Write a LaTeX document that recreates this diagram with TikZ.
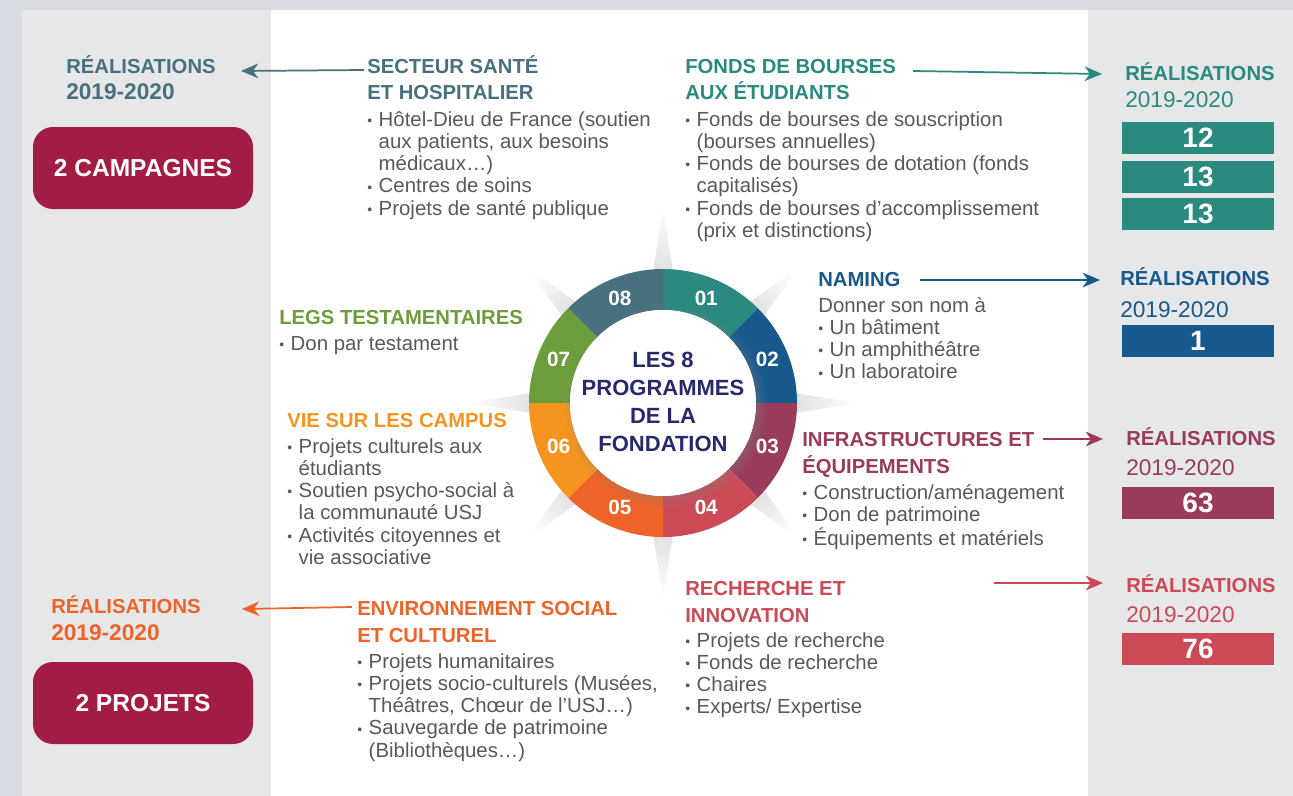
\documentclass[tikz,border=0pt]{standalone}
\usepackage{fontspec}
\setmainfont{Liberation Sans}
\usepackage{tikz}
\usetikzlibrary{
	arrows.meta
	,positioning
	,shadows
	,fadings
}
\definecolor{frameCol}{HTML}{D8DBE4}
\definecolor{panelCol}{HTML}{E6E7E9}
\definecolor{santeCol}{HTML}{47717F}
\definecolor{boursesCol}{HTML}{2A8A7F}
\definecolor{namingCol}{HTML}{17598C}
\definecolor{infraCol}{HTML}{9A3B5C}
\definecolor{rechercheCol}{HTML}{CC4A56}
\definecolor{envCol}{HTML}{EE6327}
\definecolor{campusCol}{HTML}{F5951F}
\definecolor{legsCol}{HTML}{6D9D3B}
\definecolor{campCol}{HTML}{A31C44}
\definecolor{titleCol}{HTML}{27296B}
\definecolor{bodyCol}{HTML}{58595B}
\newcommand{\bul}{\makebox[8.6pt][l]{\raisebox{0.6pt}{\fontsize{10.5}{10}\selectfont•}}}
\newcommand{\ind}{\hspace*{8.6pt}}
\newcommand{\lines}[1]{\begin{tabular}[t]{@{}l@{}}#1\end{tabular}}

\begin{document}
\begin{tikzpicture}[x=0.75pt,y=-0.75pt,
  progHead/.style={anchor=base west,inner sep=0pt,text=#1,font=\bfseries\fontsize{15.2}{20.25}\selectfont},
  progBody/.style={anchor=base west,inner sep=0pt,text=bodyCol,font=\fontsize{15.3}{16.7}\selectfont},
  realR/.style={anchor=base west,inner sep=0pt,text=#1,font=\fontsize{15.2}{20.25}\selectfont},
  numBox/.style={fill=#1,minimum width=114pt,minimum height=24pt,inner sep=0pt,text=white,font=\bfseries\fontsize{21}{21}\selectfont},
  campBox/.style={fill=campCol,rounded corners=15pt,minimum width=165pt,minimum height=61.5pt,inner sep=0pt,text=white,font=\bfseries\fontsize{18.4}{20}\selectfont},
  linkArrow/.style={draw=#1,line width=1.3pt,-{Stealth[length=13pt,width=11pt,inset=4pt]}},
  segNum/.style={text=white,inner sep=0pt,font=\bfseries\fontsize{15.5}{15.5}\selectfont},
  centreTitle/.style={align=center,text=titleCol,inner sep=0pt,font=\bfseries\fontsize{16.5}{21}\selectfont}
]
\fill[frameCol] (0,0) rectangle (1293,796);
\fill[panelCol] (22,10) rectangle (271,796);
\fill[white] (271,10) rectangle (1088,796);
\fill[panelCol] (1088,10) rectangle (1293,796);

\begin{scope}[shift={(663,403)},y=0.75pt]
\foreach \a in {0,45,...,315}
  \fill[gray!25,path fading=east,fading angle=\a] ({\a-5}:126) -- (\a:195) -- ({\a+5}:126) -- cycle;
\foreach \c [count=\i] in {boursesCol,namingCol,infraCol,rechercheCol,envCol,campusCol,legsCol,santeCol}{
  \pgfmathsetmacro\s{135-45*\i}
  \fill[\c] (\s:134) arc[start angle=\s,end angle=\s-45,radius=134] -- ({\s-45}:93) arc[start angle=\s-45,end angle=\s,radius=93] -- cycle;
  \node[segNum] (seg\i) at ({\s-22.5}:113) {0\i};
}
\fill[white,circular drop shadow={shadow xshift=2pt,shadow yshift=-2pt,opacity=.4}] (0,0) circle[radius=93];
\node[centreTitle] (progTitle) at (0,1) {LES 8\\PROGRAMMES\\DE LA\\FONDATION};
\end{scope}

\node[progHead=santeCol] (realA) at (66,73) {\lines{RÉALISATIONS\\{\fontsize{17}{20.25}\selectfont 2019-2020}}};
\node[campBox] (campA) at (143,168) {2 CAMPAGNES};
\node[progHead=envCol] (realF) at (51,613) {\lines{RÉALISATIONS\\{\fontsize{17}{20.25}\selectfont 2019-2020}}};
\node[campBox] (campB) at (143,703) {2 PROJETS};

\node[realR=boursesCol] (realB) at (1125,80) {\lines{\textbf{RÉALISATIONS}\\{\fontsize{17}{20.25}\selectfont 2019-2020}}};
\node[numBox=boursesCol] (box12) at (1198,138) {12};
\node[numBox=boursesCol] (box13a) at (1198,176.5) {13};
\node[numBox=boursesCol] (box13b) at (1198,214) {13};
\node[realR=namingCol] (realC) at (1120,285) {\lines{\textbf{RÉALISATIONS}\\[3.75pt]{\fontsize{17}{20.25}\selectfont 2019-2020}}};
\node[numBox=namingCol] (box1) at (1198,340.5) {1};
\node[realR=infraCol] (realD) at (1126,445) {\lines{\textbf{RÉALISATIONS}\\[2.25pt]{\fontsize{17}{20.25}\selectfont 2019-2020}}};
\node[numBox=infraCol] (box63) at (1198,502.5) {63};
\node[realR=rechercheCol] (realE) at (1126,592) {\lines{\textbf{RÉALISATIONS}\\[2.25pt]{\fontsize{17}{20.25}\selectfont 2019-2020}}};
\node[numBox=rechercheCol] (box76) at (1198,648.5) {76};

\node[progHead=santeCol] (sante) at (367,73) {\lines{SECTEUR SANTÉ\\ET HOSPITALIER}};
\node[progBody] (santeList) at ([shift={(0,53)}]sante.base west) {\lines{\bul Hôtel-Dieu de France (soutien\\\ind aux patients, aux besoins\\\ind médicaux…)\\\bul Centres de soins\\\bul Projets de santé publique}};

\node[progHead=boursesCol] (bourses) at (685,73) {\lines{FONDS DE BOURSES\\AUX ÉTUDIANTS}};
\node[progBody] (boursesList) at ([shift={(0,53)}]bourses.base west) {\lines{\bul Fonds de bourses de souscription\\\ind (bourses annuelles)\\\bul Fonds de bourses de dotation (fonds\\\ind capitalisés)\\\bul Fonds de bourses d’accomplissement\\\ind (prix et distinctions)}};

\node[progHead=namingCol] (naming) at (818,286) {NAMING};
\node[progBody] (namingList) at ([shift={(0,26)}]naming.base west) {\lines{Donner son nom à\\\bul Un bâtiment\\\bul Un amphithéâtre\\\bul Un laboratoire}};

\node[progHead=legsCol] (legs) at (279,324) {LEGS TESTAMENTAIRES};
\node[progBody] (legsList) at ([shift={(0,26)}]legs.base west) {\bul Don par testament};

\node[progHead=campusCol] (campus) at (287,427) {VIE SUR LES CAMPUS};
\node[progBody] (campusList) at ([shift={(0,26)}]campus.base west) {\lines{\bul Projets culturels aux\\\ind étudiants\\\bul Soutien psycho-social à\\\ind la communauté USJ\\\bul Activités citoyennes et\\\ind vie associative}};

\node[progHead=infraCol] (infra) at (802,446) {\lines{INFRASTRUCTURES ET\\ÉQUIPEMENTS}};
\node[progBody] (infraList) at ([shift={(0,53)}]infra.base west) {\lines{\bul Construction/aménagement\\\bul Don de patrimoine\\\bul Équipements et matériels}};

\node[progHead=rechercheCol] (recherche) at (685,595) {\lines{RECHERCHE ET\\INNOVATION}};
\node[progBody] (rechercheList) at ([shift={(0,52)}]recherche.base west) {\lines{\bul Projets de recherche\\\bul Fonds de recherche\\\bul Chaires\\\bul Experts/ Expertise}};

\node[progHead=envCol] (env) at (357,615) {\lines{ENVIRONNEMENT SOCIAL\\ET CULTUREL}};
\node[progBody] (envList) at ([shift={(0,53)}]env.base west) {\lines{\bul Projets humanitaires\\\bul Projets socio-culturels (Musées,\\\ind Théâtres, Chœur de l’USJ…)\\\bul Sauvegarde de patrimoine\\\ind (Bibliothèques…)}};

\draw[linkArrow=santeCol] ([shift={(-3,-3)}]sante.base west) -- ([shift={(25,-2)}]realA.base east);
\draw[linkArrow=envCol] ([shift={(-5,-8)}]env.base west) -- ([shift={(41,-4)}]realF.base east);
\draw[linkArrow=boursesCol] ([shift={(17,-2)}]bourses.base east) -- ([shift={(-23,-6)}]realB.base west);
\draw[linkArrow=namingCol] ([shift={(19,-6)}]naming.base east) -- ([shift={(-20,-5)}]realC.base west);
\draw[linkArrow=infraCol] ([shift={(9,-7)}]infra.base east) -- ([shift={(-23,-6)}]realD.base west);
\draw[linkArrow=rechercheCol] ([shift={(149,-12)}]recherche.base east) -- ([shift={(-23,-9)}]realE.base west);
\end{tikzpicture}
\end{document}
